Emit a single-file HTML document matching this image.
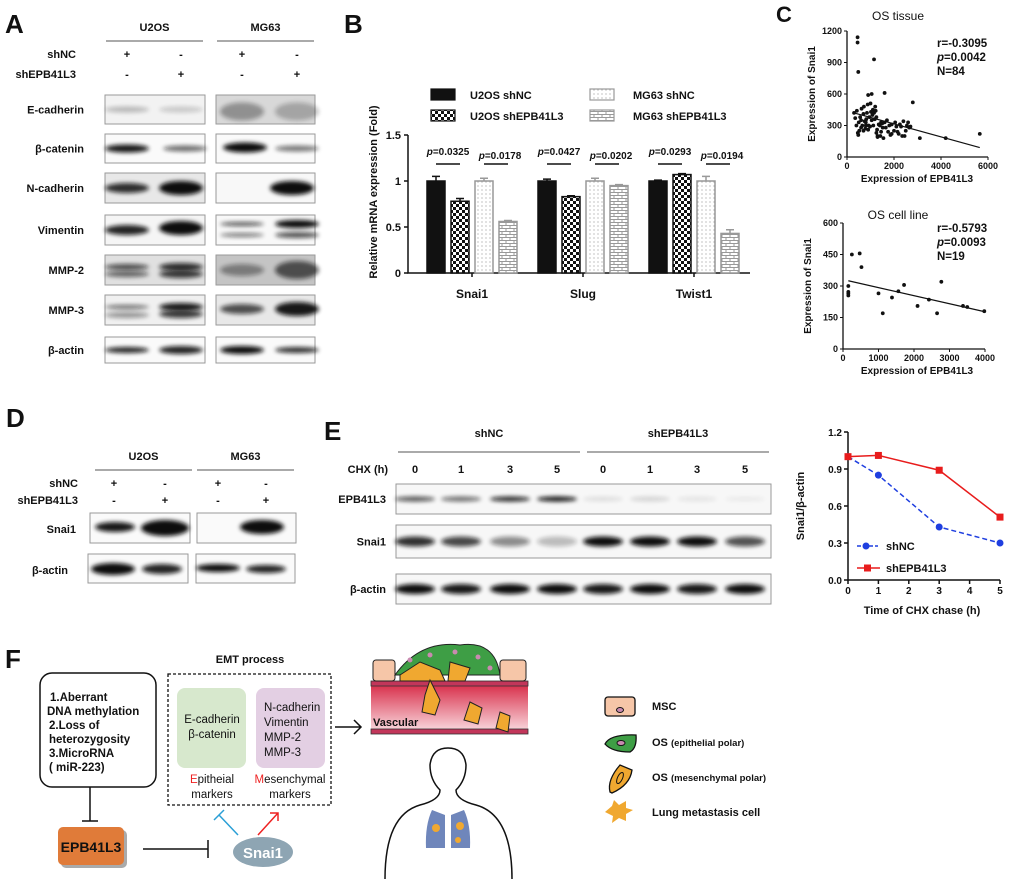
<!DOCTYPE html>
<html><head><meta charset="utf-8"><style>
body{margin:0;background:#fff}
svg{display:block;font-family:"Liberation Sans",Arial,sans-serif;font-weight:bold}
text{fill:#111}
</style></head><body>
<svg id="fig" width="1020" height="879" viewBox="0 0 1020 879" xmlns="http://www.w3.org/2000/svg">
<defs>
<filter id="blur" x="-20%" y="-100%" width="140%" height="300%"><feGaussianBlur stdDeviation="2.2"/></filter>
<filter id="blurS"><feGaussianBlur stdDeviation="1"/></filter>
<pattern id="checker" width="6" height="6" patternUnits="userSpaceOnUse"><rect width="6" height="6" fill="#fff"/><rect width="3" height="3" fill="#111"/><rect x="3" y="3" width="3" height="3" fill="#111"/></pattern>
<pattern id="dots" width="4" height="4" patternUnits="userSpaceOnUse"><rect width="4" height="4" fill="#fff"/><circle cx="2" cy="2" r="0.6" fill="#999"/></pattern>
<pattern id="brick" width="8" height="6" patternUnits="userSpaceOnUse"><rect width="8" height="6" fill="#fff"/><path d="M0 0.5H8M0 3.5H8M2 0.5V3.5M6 3.5V6" stroke="#999" stroke-width="1" fill="none"/></pattern>
<linearGradient id="vasc" x1="0" y1="0" x2="0" y2="1"><stop offset="0" stop-color="#d9344f"/><stop offset="1" stop-color="#fbe4e8"/></linearGradient>
</defs>
<g id="panelA"></g>
<g id="panelB"></g>
<g id="panelC"></g>
<g id="panelD"></g>
<g id="panelE"></g>
<g id="panelF">
<text x="5" y="668" font-size="26">F</text>
<text x="250" y="663" font-size="11" text-anchor="middle">EMT process</text>
<rect x="40" y="673" width="116" height="114" rx="12" fill="#fff" stroke="#111" stroke-width="1.5"/>
<g font-size="11.5">
<text x="50" y="701">1.Aberrant</text><text x="47" y="715">DNA methylation</text><text x="49" y="729">2.Loss of</text><text x="49" y="743">heterozygosity</text><text x="49" y="757">3.MicroRNA</text><text x="49" y="771">( miR-223)</text></g>
<path d="M90 787V821M82 821H98" stroke="#111" stroke-width="1.5"/>
<rect x="61" y="830" width="66" height="38" rx="5" fill="#aaa"/>
<rect x="58" y="827" width="66" height="38" rx="5" fill="#e07b39"/>
<text x="91" y="852" font-size="14" text-anchor="middle">EPB41L3</text>
<path d="M143 849H208M208 840V858" stroke="#111" stroke-width="1.5"/>
<ellipse cx="263" cy="852" rx="30" ry="15" fill="#8ea5b3"/>
<text x="263" y="858" font-size="15" text-anchor="middle" style="fill:#fff">Snai1</text>
<rect x="168" y="674" width="163" height="131" fill="none" stroke="#111" stroke-width="1.3" stroke-dasharray="3,2"/>
<rect x="177" y="688" width="69" height="80" rx="8" fill="#d7e8cd"/>
<rect x="256" y="688" width="69" height="80" rx="8" fill="#e3cfe3"/>
<g font-size="11.5" font-weight="normal">
<text x="212" y="723" text-anchor="middle">E-cadherin</text><text x="212" y="738" text-anchor="middle">β-catenin</text>
<text x="264" y="711">N-cadherin</text><text x="264" y="726">Vimentin</text><text x="264" y="741">MMP-2</text><text x="264" y="756">MMP-3</text>
<text x="212" y="783" text-anchor="middle"><tspan style="fill:#e22">E</tspan>pitheial</text><text x="212" y="798" text-anchor="middle">markers</text>
<text x="290" y="783" text-anchor="middle"><tspan style="fill:#e22">M</tspan>esenchymal</text><text x="290" y="798" text-anchor="middle">markers</text></g>
<path d="M238 835L219 815M214 820L224 810" stroke="#2a9fd6" stroke-width="1.5"/>
<path d="M258 835L278 813M270 813H278V821" stroke="#e22" stroke-width="1.5" fill="none"/>
<path d="M335 727H361M354 720L361 727L354 734" stroke="#111" stroke-width="1.5" fill="none"/>
<g>
<rect x="371" y="686" width="157" height="48" fill="url(#vasc)"/>
<rect x="371" y="681" width="157" height="5" fill="#c2365a" stroke="#333" stroke-width="0.8"/>
<rect x="371" y="729" width="157" height="5" fill="#c2365a" stroke="#333" stroke-width="0.8"/>
<rect x="373" y="660" width="22" height="21" rx="3" fill="#f6c6a8" stroke="#222"/>
<rect x="500" y="660" width="26" height="21" rx="3" fill="#f6c6a8" stroke="#222"/>
<path d="M395 675 Q420 640 460 645 Q495 640 500 675 Z" fill="#3e9e45" stroke="#222"/>
<path d="M400 675 L420 662 L440 670 L445 681 L400 681Z" fill="#f0a830" stroke="#222"/>
<path d="M450 662 L470 668 L465 681 L448 681Z" fill="#f0a830" stroke="#222"/>
<path d="M430 680 L440 700 L435 715 L422 712 L425 695Z" fill="#f0a830" stroke="#222"/>
<path d="M470 702 L482 708 L478 724 L464 720Z" fill="#f0a830" stroke="#222"/>
<path d="M500 712 L510 716 L508 732 L496 728Z" fill="#f0a830" stroke="#222"/>
<circle cx="410" cy="660" r="2.5" fill="#c98ab0"/><circle cx="430" cy="655" r="2.5" fill="#c98ab0"/><circle cx="455" cy="652" r="2.5" fill="#c98ab0"/><circle cx="478" cy="657" r="2.5" fill="#c98ab0"/><circle cx="490" cy="668" r="2.5" fill="#c98ab0"/>
<text x="373" y="726" font-size="11">Vascular</text>
</g>
<g>
<path d="M385 879 Q385 815 420 805 Q440 800 440 790 Q430 780 430 765 Q432 748 448 748 Q464 748 466 765 Q466 780 456 790 Q456 800 476 805 Q512 815 512 879" fill="none" stroke="#111" stroke-width="1.5"/>
<path d="M432 810 Q425 825 426 848 L445 848 L445 815Z M464 810 Q471 825 470 848 L451 848 L451 815Z" fill="#6f86bb"/>
<circle cx="436" cy="828" r="4" fill="#f0a830"/><circle cx="460" cy="826" r="4" fill="#f0a830"/><circle cx="458" cy="840" r="3" fill="#f0a830"/>
</g>
<g>
<rect x="605" y="697" width="30" height="19" rx="3" fill="#f6c6a8" stroke="#111" stroke-width="1.3"/><ellipse cx="620" cy="710" rx="3.5" ry="2.5" fill="#c98ab0" stroke="#111"/>
<path d="M605 744 Q610 734 636 735 Q637 748 630 752 Q612 752 605 744Z" fill="#3e9e45" stroke="#111" stroke-width="1.3"/><ellipse cx="621" cy="743" rx="4" ry="2.5" fill="#c98ab0" stroke="#111"/>
<path d="M610 792 Q607 780 620 765 L632 770 Q630 785 612 793Z" fill="#f0a830" stroke="#111" stroke-width="1.3"/><ellipse cx="620" cy="778" rx="2.5" ry="6" transform="rotate(25 620 778)" fill="none" stroke="#111"/>
<polygon points="605,812 612,806 614,800 619,805 626,801 626,808 633,810 626,814 626,821 619,818 612,823 613,816" fill="#f0a830"/>
<text x="652" y="710" font-size="11">MSC</text>
<text x="652" y="746" font-size="11">OS <tspan font-size="9.5">(epithelial polar)</tspan></text>
<text x="652" y="781" font-size="11">OS <tspan font-size="9.5">(mesenchymal polar)</tspan></text>
<text x="652" y="816" font-size="11">Lung metastasis cell</text>
</g>
</g>
</svg>
<script>
// ===== Panel B data =====
var bCategories = ["Snai1", "Slug", "Twist1"];
var bSeries = ["U2OS shNC", "U2OS shEPB41L3", "MG63 shNC", "MG63 shEPB41L3"];
var bU2OSshNC = [1.00, 1.00, 1.00];
var bU2OSshEPB = [0.78, 0.83, 1.07];
var bMG63shNC = [1.00, 1.00, 1.00];
var bMG63shEPB = [0.56, 0.95, 0.43];
var bErrU2OSshNC = [0.05, 0.02, 0.01];
var bErrU2OSshEPB = [0.03, 0.01, 0.01];
var bErrMG63shNC = [0.03, 0.03, 0.05];
var bErrMG63shEPB = [0.01, 0.01, 0.04];
var bPU2OS = ["p=0.0325", "p=0.0427", "p=0.0293"];
var bPMG63 = ["p=0.0178", "p=0.0202", "p=0.0194"];
var bTicks = [0, 0.5, 1, 1.5];
var bTickLabels = ["0", "0.5", "1", "1.5"];
// ===== Panel C data =====
var cTissueX = [450,450,480,1150,1600,2800,3100,4200,5650,1050,900,300,350,400,420,460,480,500,520,560,600,620,650,700,720,750,780,800,820,850,880,900,920,950,980,1000,1020,1050,1080,1100,1120,1150,1180,1200,1220,1250,1280,1300,1350,1400,1420,1450,1500,1520,1550,1600,1650,1700,1750,1800,1850,1900,2000,2050,2100,2150,2200,2250,2300,2350,2400,2450,2500,2550,2600,2650,2700,1250,1300,1450,700,600,800,1900];
var cTissueY = [1140,1090,810,930,610,520,180,180,220,600,590,420,370,300,440,230,210,330,250,380,280,460,300,250,480,340,270,300,360,420,500,260,300,380,290,510,430,350,400,450,300,420,360,480,440,380,260,200,310,300,200,240,320,280,180,330,280,350,240,300,210,310,250,330,290,240,220,310,290,200,340,200,250,300,330,280,290,230,190,330,410,350,330,220];
var cTissueFit = [[300, 420], [5650, 90]];
var cTissueYTicks = [0, 300, 600, 900, 1200];
var cTissueXTicks = [0, 2000, 4000, 6000];
var cCellX = [150,150,150,150,250,470,520,1000,1120,1380,1560,1720,2100,2420,2650,2770,3380,3500,3980];
var cCellY = [255,265,272,300,450,455,390,265,170,245,275,305,205,235,170,320,205,200,180];
var cCellFit = [[150, 325], [3980, 178]];
var cCellYTicks = [0, 150, 300, 450, 600];
var cCellXTicks = [0, 1000, 2000, 3000, 4000];
// ===== Panel E chart data =====
var eTimes = [0, 1, 3, 5];
var eShNC = [1.00, 0.85, 0.43, 0.30];
var eShEPB = [1.00, 1.01, 0.89, 0.51];
var eYTicks = [0, 0.3, 0.6, 0.9, 1.2];
var eYTickLabels = ["0.0", "0.3", "0.6", "0.9", "1.2"];
var eXTicks = [0, 1, 2, 3, 4, 5];

var NS = "http://www.w3.org/2000/svg";
function mk(parent, tag, attrs, txt) {
  var el = document.createElementNS(NS, tag);
  for (var k in attrs) el.setAttribute(k, attrs[k]);
  if (txt !== undefined) el.textContent = txt;
  parent.appendChild(el);
  return el;
}

// ===== Panel A (blots) =====
var A = document.getElementById('panelA');
var t;
t = mk(A, 'text', {x: 5, y: 33, 'font-size': 26}, 'A');


function blotHeader(g, x1, x2, x3, x4, yTitle, yLine, ySh1, ySh2, labX, names, fs) {
  [[x1, x2, 'U2OS'], [x3, x4, 'MG63']].forEach(function (c) {
    var tt = mk(g, 'text', {x: (c[0] + c[1]) / 2, y: yTitle, 'font-size': fs, 'text-anchor': 'middle'}, c[2]);
    
    
    var ln = mk(g, 'line', {x1: c[0], x2: c[1], y1: yLine, y2: yLine, stroke: '#555', 'stroke-width': 1});
    
    
  });
  var t1 = mk(g, 'text', {x: labX, y: ySh1, 'font-size': fs, 'text-anchor': 'end'}, 'shNC');
  
  
  var t2 = mk(g, 'text', {x: labX, y: ySh2, 'font-size': fs, 'text-anchor': 'end'}, 'shEPB41L3');
  
  
}
function blotBox(g, x, y, w, h, bg, name) {
  var r = mk(g, 'rect', {x: x, y: y, width: w, height: h, fill: bg, stroke: '#999', 'stroke-width': 1});
  
  
}
function band(g, cx, cy, rx, ry, op) {
  var e = mk(g, 'ellipse', {cx: cx, cy: cy, rx: rx, ry: ry, fill: '#111', opacity: op, filter: 'url(#blur)'});
  
  
}
blotHeader(A, 106, 203, 217, 314, 31, 41, 58, 78, 76, ['U2OS', 'MG63'], 11);
var lanesA = [127, 181, 242, 297];
['+', '-', '+', '-'].forEach(function (s, i) { var q = mk(A, 'text', {x: lanesA[i], y: 58, 'font-size': 11, 'text-anchor': 'middle'}, s);   });
['-', '+', '-', '+'].forEach(function (s, i) { var q = mk(A, 'text', {x: lanesA[i], y: 78, 'font-size': 11, 'text-anchor': 'middle'}, s);   });
var rowsA = [
  ['E-cadherin', 95, 29, ['#f2f2f2', '#d8d8d8'], [[127, 0, 0.25, 3], [181, 0, 0.18, 3], [242, 2, 0.35, 9], [297, 2, 0.25, 9]]],
  ['β-catenin', 134, 29, ['#fafafa', '#fafafa'], [[127, 0, 0.95, 4], [185, 0, 0.6, 3], [245, -1, 1, 5], [297, 0, 0.55, 3]]],
  ['N-cadherin', 173, 30, ['#e8e8e8', '#f8f8f8'], [[127, 0, 0.85, 5], [181, 0, 1, 7], [242, 0, 0, 3], [292, 0, 1, 7]]],
  ['Vimentin', 215, 30, ['#f5f5f5', '#f8f8f8'], [[127, 0, 0.9, 5], [181, -2, 1, 7], [242, -6, 0.7, 2], [297, -6, 1, 4], [242, 5, 0.55, 2], [297, 5, 0.7, 3]]],
  ['MMP-2', 255, 30, ['#e0e0e0', '#c4c4c4'], [[127, -3, 0.7, 3], [181, -3, 0.85, 4], [127, 4, 0.6, 3], [181, 4, 0.8, 4], [242, 0, 0.4, 6], [297, 0, 0.65, 9]]],
  ['MMP-3', 295, 30, ['#f0f0f0', '#e8e8e8'], [[127, -3, 0.6, 2], [181, -3, 0.95, 4], [127, 5, 0.4, 3], [181, 4, 0.8, 4], [242, -1, 0.7, 5], [297, -1, 0.95, 7]]],
  ['β-actin', 337, 26, ['#fafafa', '#fafafa'], [[127, 0, 0.9, 3], [181, 0, 0.9, 4], [242, 0, 1, 4], [297, 0, 0.85, 3]]]
];
rowsA.forEach(function (r) {
  var lbl = mk(A, 'text', {x: 84, y: r[1] + r[2] / 2 + 4, 'font-size': 11, 'text-anchor': 'end'}, r[0]);
  
  
  blotBox(A, 105, r[1], 100, r[2], r[3][0], 'blot-u2os');
  blotBox(A, 216, r[1], 99, r[2], r[3][1], 'blot-mg63');
  r[4].forEach(function (b) { if (b[2] > 0) band(A, b[0], r[1] + r[2] / 2 + b[1], 22, b[3], b[2]); });
});

// ===== Panel B chart =====
var B = document.getElementById('panelB');
t = mk(B, 'text', {x: 344, y: 33, 'font-size': 26}, 'B');


var bX0 = 408, bX1 = 750, bY0 = 273, bYscale = 92;
function bY(v) { return bY0 - v * bYscale; }
function bGroupX(i) { return 472 + i * 111; }
var bFills = ['#111', 'url(#checker)', 'url(#dots)', 'url(#brick)'];
var bStroke = ['#111', '#111', '#999', '#999'];
var bVals = [bU2OSshNC, bU2OSshEPB, bMG63shNC, bMG63shEPB];
var bErrs = [bErrU2OSshNC, bErrU2OSshEPB, bErrMG63shNC, bErrMG63shEPB];
var ax = mk(B, 'path', {d: 'M' + bX0 + ' ' + bY(1.5) + 'V' + bY0 + 'H' + bX1, stroke: '#111', 'stroke-width': 1.5, fill: 'none'});


bTicks.forEach(function (v, i) {
  var tk = mk(B, 'line', {x1: bX0 - 4, x2: bX0, y1: bY(v), y2: bY(v), stroke: '#111', 'stroke-width': 1.5});
  
  
  var tl = mk(B, 'text', {x: bX0 - 7, y: bY(v) + 4, 'font-size': 11, 'text-anchor': 'end'}, bTickLabels[i]);
  
  
});
var yt = mk(B, 'text', {x: 0, y: 0, 'font-size': 11, 'text-anchor': 'middle', transform: 'translate(377,192) rotate(-90)'}, 'Relative mRNA expression (Fold)');


bCategories.forEach(function (c, i) {
  var gx = bGroupX(i);
  var tk = mk(B, 'line', {x1: gx, x2: gx, y1: bY0, y2: bY0 + 4, stroke: '#111', 'stroke-width': 1.5});
  
  
  var cl = mk(B, 'text', {x: gx, y: 298, 'font-size': 12, 'text-anchor': 'middle'}, c);
  
  
  for (var s = 0; s < 4; s++) {
    var cx = gx - 36 + s * 24, v = bVals[s][i], e = bErrs[s][i];
    var eb = mk(B, 'path', {d: 'M' + cx + ' ' + bY(v) + 'V' + bY(v + e) + 'M' + (cx - 4) + ' ' + bY(v + e) + 'H' + (cx + 4), stroke: bStroke[s], 'stroke-width': 1.5});
    
    
    var bar = mk(B, 'rect', {x: cx - 9, y: bY(v), width: 18, height: bY0 - bY(v), fill: bFills[s], stroke: bStroke[s], 'stroke-width': 1.5});
    
    
  }
  [[bPU2OS[i], gx - 24], [bPMG63[i], gx + 24]].forEach(function (p, k) {
    var pl = mk(B, 'line', {x1: p[1] - 12, x2: p[1] + 12, y1: 164, y2: 164, stroke: '#111', 'stroke-width': 1.5});
    
    
    var pt = mk(B, 'text', {x: p[1] + (k ? 4 : 0), y: k ? 159 : 155, 'font-size': 10, 'text-anchor': 'middle'});
    
    
    mk(pt, 'tspan', {'font-style': 'italic'}, 'p');
    mk(pt, 'tspan', {}, p[0].slice(1));
  });
});
var legPos = [[431, 89, 470], [431, 110, 470], [590, 89, 633], [590, 110, 633]];
bSeries.forEach(function (s, i) {
  var lr = mk(B, 'rect', {x: legPos[i][0], y: legPos[i][1], width: 24, height: 11, fill: bFills[i], stroke: bStroke[i], 'stroke-width': 1.2});
  
  
  var lt = mk(B, 'text', {x: legPos[i][2], y: legPos[i][1] + 10, 'font-size': 11}, s);
  
  
});

// ===== Panel C scatter =====
var C = document.getElementById('panelC');
t = mk(C, 'text', {x: 776, y: 22, 'font-size': 22}, 'C');


function scatter(cfg) {
  var g = mk(C, 'g', {});
  
  
  function sx(v) { return cfg.x0 + (v - cfg.xmin) / (cfg.xmax - cfg.xmin) * (cfg.x1 - cfg.x0); }
  function sy(v) { return cfg.y0 - (v - cfg.ymin) / (cfg.ymax - cfg.ymin) * (cfg.y0 - cfg.y1); }
  var a = mk(g, 'path', {d: 'M' + cfg.x0 + ' ' + cfg.y1 + 'V' + cfg.y0 + 'H' + cfg.x1, stroke: '#111', 'stroke-width': 1.3, fill: 'none'});
  
  
  cfg.yt.forEach(function (v) {
    var k = mk(g, 'line', {x1: cfg.x0 - 3, x2: cfg.x0, y1: sy(v), y2: sy(v), stroke: '#111'});
    
    
    var l = mk(g, 'text', {x: cfg.x0 - 5, y: sy(v) + 3, 'font-size': 9, 'text-anchor': 'end'}, String(v));
    
    
  });
  cfg.xt.forEach(function (v) {
    var k = mk(g, 'line', {x1: sx(v), x2: sx(v), y1: cfg.y0, y2: cfg.y0 + 3, stroke: '#111'});
    
    
    var l = mk(g, 'text', {x: sx(v), y: cfg.y0 + 12, 'font-size': 9, 'text-anchor': 'middle'}, String(v));
    
    
  });
  var tt = mk(g, 'text', {x: 898, y: cfg.titleY, 'font-size': 12, 'font-weight': 'normal', 'text-anchor': 'middle'}, cfg.title);
  
  
  var xl = mk(g, 'text', {x: 917, y: cfg.y0 + 25, 'font-size': 10, 'text-anchor': 'middle'}, 'Expression of EPB41L3');
  
  
  var ylb = mk(g, 'text', {x: 0, y: 0, 'font-size': 10, 'text-anchor': 'middle', transform: 'translate(' + (cfg.x0 - 32) + ',' + (cfg.y0 + cfg.y1) / 2 + ') rotate(-90)'}, 'Expression of Snai1');
  
  
  var fl = mk(g, 'line', {x1: sx(cfg.fit[0][0]), y1: sy(cfg.fit[0][1]), x2: sx(cfg.fit[1][0]), y2: sy(cfg.fit[1][1]), stroke: '#111', 'stroke-width': 1.2});
  
  
  cfg.xs.forEach(function (v, i) {
    var p = mk(g, 'circle', {cx: sx(v), cy: sy(cfg.ys[i]), r: 1.9, fill: '#111'});
    
    
  });
  cfg.stats.forEach(function (s, i) {
    var st = mk(g, 'text', {x: 937, y: cfg.statY + i * 14, 'font-size': 11.5});
    
    
    if (s[0] === 'p') { mk(st, 'tspan', {'font-style': 'italic'}, 'p'); mk(st, 'tspan', {}, s.slice(1)); } else st.textContent = s;
  });
}
scatter({name: 'os-tissue-scatter', x0: 847, x1: 988, xmin: 0, xmax: 6000, y0: 157, y1: 31, ymin: 0, ymax: 1200, yt: cTissueYTicks, xt: cTissueXTicks, xs: cTissueX, ys: cTissueY, fit: cTissueFit, title: 'OS tissue', titleY: 20, stats: ['r=-0.3095', 'p=0.0042', 'N=84'], statY: 47});
scatter({name: 'os-cell-line-scatter', x0: 843, x1: 985, xmin: 0, xmax: 4000, y0: 349, y1: 223, ymin: 0, ymax: 600, yt: cCellYTicks, xt: cCellXTicks, xs: cCellX, ys: cCellY, fit: cCellFit, title: 'OS cell line', titleY: 219, stats: ['r=-0.5793', 'p=0.0093', 'N=19'], statY: 232});

// ===== Panel D =====
var D = document.getElementById('panelD');
t = mk(D, 'text', {x: 6, y: 427, 'font-size': 26}, 'D');


blotHeader(D, 95, 192, 197, 294, 460, 470, 487, 504, 78, [], 11);
var lanesD = [114, 165, 218, 266];
['+', '-', '+', '-'].forEach(function (s, i) { var q = mk(D, 'text', {x: lanesD[i], y: 487, 'font-size': 11, 'text-anchor': 'middle'}, s);   });
['-', '+', '-', '+'].forEach(function (s, i) { var q = mk(D, 'text', {x: lanesD[i], y: 504, 'font-size': 11, 'text-anchor': 'middle'}, s);   });
t = mk(D, 'text', {x: 76, y: 533, 'font-size': 11, 'text-anchor': 'end'}, 'Snai1');


t = mk(D, 'text', {x: 68, y: 574, 'font-size': 11, 'text-anchor': 'end'}, 'β-actin');


blotBox(D, 90, 513, 100, 30, '#fafafa', 'blot-u2os');
blotBox(D, 197, 513, 99, 30, '#fafafa', 'blot-mg63');
blotBox(D, 88, 554, 100, 29, '#fafafa', 'blot-u2os');
blotBox(D, 196, 554, 99, 29, '#fafafa', 'blot-mg63');
band(D, 115, 527, 20, 5, 0.95); band(D, 165, 528, 24, 8, 1); band(D, 262, 527, 22, 7, 1);
band(D, 113, 569, 22, 6, 1); band(D, 162, 569, 20, 5, 0.9); band(D, 218, 568, 22, 4, 1); band(D, 266, 569, 20, 4, 0.9);

// ===== Panel E blots =====
var E = document.getElementById('panelE');
t = mk(E, 'text', {x: 324, y: 440, 'font-size': 26}, 'E');


[[398, 580, 'shNC'], [587, 769, 'shEPB41L3']].forEach(function (c) {
  var tt = mk(E, 'text', {x: (c[0] + c[1]) / 2, y: 437, 'font-size': 11, 'text-anchor': 'middle'}, c[2]);
  
  
  var ln = mk(E, 'line', {x1: c[0], x2: c[1], y1: 452, y2: 452, stroke: '#555'});
  
  
});
t = mk(E, 'text', {x: 388, y: 473, 'font-size': 11, 'text-anchor': 'end'}, 'CHX (h)');


var lanesE = [415, 461, 510, 557, 603, 650, 697, 745];
var laneTimes = ['0', '1', '3', '5', '0', '1', '3', '5'];
lanesE.forEach(function (x, i) { var q = mk(E, 'text', {x: x, y: 473, 'font-size': 11, 'text-anchor': 'middle'}, laneTimes[i]);   });
var rowsE = [['EPB41L3', 484, 30, [0.7, 0.6, 0.9, 1, 0.1, 0.15, 0.08, 0.05], 2.5], ['Snai1', 525, 33, [0.85, 0.75, 0.45, 0.25, 1, 1, 1, 0.7], 5], ['β-actin', 574, 30, [1, 0.95, 1, 1, 0.95, 1, 0.95, 1], 5]];
rowsE.forEach(function (r) {
  var lbl = mk(E, 'text', {x: 386, y: r[1] + r[2] / 2 + 4, 'font-size': 11, 'text-anchor': 'end'}, r[0]);
  
  
  blotBox(E, 396, r[1], 375, r[2], '#f7f7f7', 'blot-strip');
  r[3].forEach(function (op, i) { band(E, lanesE[i], r[1] + r[2] / 2, 20, r[4], op); });
});

// ===== Panel E line chart =====
var eX0 = 848, eX1 = 1000, eY0 = 580, eY1 = 432;
function ex(v) { return eX0 + v / 5 * (eX1 - eX0); }
function ey(v) { return eY0 - v / 1.2 * (eY0 - eY1); }
var eg = mk(E, 'g', {});


var eax = mk(eg, 'path', {d: 'M' + eX0 + ' ' + eY1 + 'V' + eY0 + 'H' + eX1, stroke: '#111', 'stroke-width': 1.5, fill: 'none'});


eYTicks.forEach(function (v, i) {
  var k = mk(eg, 'line', {x1: eX0 - 4, x2: eX0, y1: ey(v), y2: ey(v), stroke: '#111', 'stroke-width': 1.5});
  
  
  var l = mk(eg, 'text', {x: eX0 - 6, y: ey(v) + 4, 'font-size': 10, 'text-anchor': 'end'}, eYTickLabels[i]);
  
  
});
eXTicks.forEach(function (v) {
  var k = mk(eg, 'line', {x1: ex(v), x2: ex(v), y1: eY0, y2: eY0 + 4, stroke: '#111', 'stroke-width': 1.5});
  
  
  var l = mk(eg, 'text', {x: ex(v), y: eY0 + 14, 'font-size': 10, 'text-anchor': 'middle'}, String(v));
  
  
});
t = mk(eg, 'text', {x: 922, y: 614, 'font-size': 11, 'text-anchor': 'middle'}, 'Time of CHX chase (h)');


t = mk(eg, 'text', {x: 0, y: 0, 'font-size': 11, 'text-anchor': 'middle', transform: 'translate(804,506) rotate(-90)'}, 'Snai1/β-actin');


function series(vals, color, dash, marker, name) {
  var d = eTimes.map(function (tv, i) { return (i ? 'L' : 'M') + ex(tv) + ' ' + ey(vals[i]); }).join('');
  var p = mk(eg, 'path', {d: d, stroke: color, 'stroke-width': 1.5, fill: 'none', 'stroke-dasharray': dash});
  
  
  eTimes.forEach(function (tv, i) {
    var m = marker === 'c' ? mk(eg, 'circle', {cx: ex(tv), cy: ey(vals[i]), r: 3.5, fill: color}) : mk(eg, 'rect', {x: ex(tv) - 3.5, y: ey(vals[i]) - 3.5, width: 7, height: 7, fill: color});
    
    
  });
}
series(eShNC, '#1f3fe0', '5,3', 'c', 'shnc');
series(eShEPB, '#e81c1c', 'none', 's', 'shepb41l3');
var lg1 = mk(eg, 'path', {d: 'M857 546H878', stroke: '#1f3fe0', 'stroke-width': 1.5, 'stroke-dasharray': '4,2'});


var lgm1 = mk(eg, 'circle', {cx: 866, cy: 546, r: 3.5, fill: '#1f3fe0'});


t = mk(eg, 'text', {x: 886, y: 550, 'font-size': 11}, 'shNC');


var lg2 = mk(eg, 'path', {d: 'M857 568H880', stroke: '#e81c1c', 'stroke-width': 1.5});


var lgm2 = mk(eg, 'rect', {x: 864, y: 564.5, width: 7, height: 7, fill: '#e81c1c'});


t = mk(eg, 'text', {x: 886, y: 572, 'font-size': 11}, 'shEPB41L3');


</script>
</body></html>
